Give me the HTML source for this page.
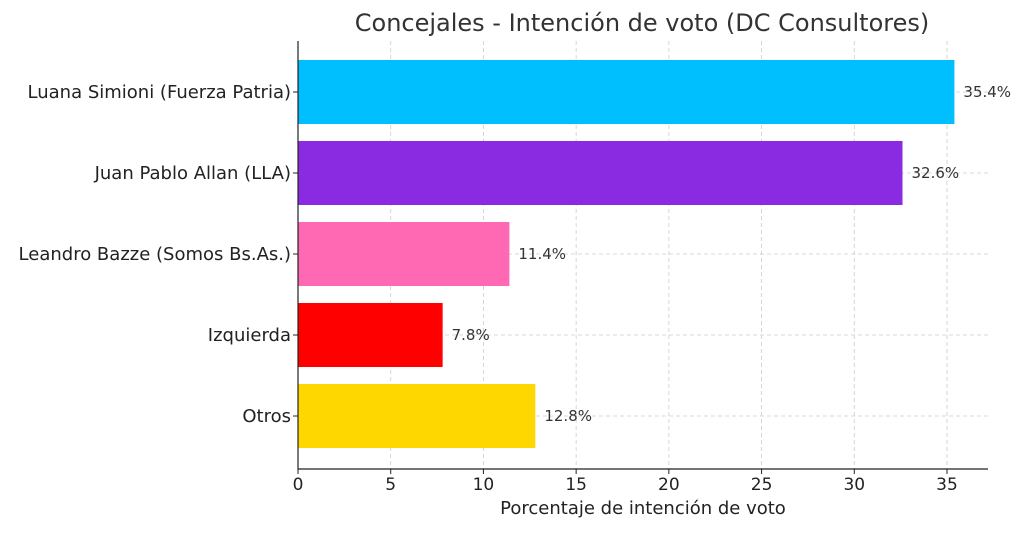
<!DOCTYPE html>
<html><head><meta charset="utf-8"><style>
body{margin:0;background:#fff;font-family:"Liberation Sans","DejaVu Sans",sans-serif;}
svg text{font-family:"DejaVu Sans","Liberation Sans",sans-serif;}
</style></head><body>
<svg id="chart" width="1024" height="529" xmlns="http://www.w3.org/2000/svg">
<text x="642" y="31" font-size="24" fill="#333" text-anchor="middle">Concejales - Intención de voto (DC Consultores)</text>
<g id="grid"></g><g id="bars"></g><g id="labels"></g><g id="ticks"></g>
<line x1="298" y1="41" x2="298" y2="469" stroke="#222" stroke-width="1.2"/>
<line x1="298" y1="469" x2="988" y2="469" stroke="#222" stroke-width="1.2"/>
<text x="643" y="514" font-size="18" fill="#222" text-anchor="middle">Porcentaje de intención de voto</text>
</svg>
<script>
const categories=["Luana Simioni (Fuerza Patria)","Juan Pablo Allan (LLA)","Leandro Bazze (Somos Bs.As.)","Izquierda","Otros"];
const values=[35.4,32.6,11.4,7.8,12.8];
const colors=["#00bfff","#8a2be2","#ff69b4","#ff0000","#ffd700"];
const xTicks=[0,5,10,15,20,25,30,35];
const NS="http://www.w3.org/2000/svg";
const x=v=>298+v*(649/35);
const yC=i=>92+i*81;
function mk(tag,attrs,parent){const e=document.createElementNS(NS,tag);for(const k in attrs)e.setAttribute(k,attrs[k]);document.getElementById(parent).appendChild(e);return e;}
xTicks.forEach(t=>{
  const g=mk("line",{x1:x(t),x2:x(t),y1:41,y2:469,stroke:"#ccc","stroke-dasharray":"4,3","stroke-width":0.8},"grid");
  
  
  const tk=mk("line",{x1:x(t),x2:x(t),y1:469,y2:474,stroke:"#222"},"ticks");
  
  
  const tl=mk("text",{x:x(t),y:490,"font-size":17,fill:"#222","text-anchor":"middle"},"ticks");
  tl.textContent=t;
  
  
});
categories.forEach((c,i)=>{
  const gl=mk("line",{x1:298,x2:988,y1:yC(i),y2:yC(i),stroke:"#ccc","stroke-dasharray":"4,3","stroke-width":0.8},"grid");
  
  
  const b=mk("rect",{x:x(0),y:yC(i)-32,width:x(values[i])-x(0),height:64,fill:colors[i]},"bars");
  
  
  const v=mk("text",{x:x(values[i])+9,y:yC(i)+5,"font-size":15,fill:"#333"},"labels");
  v.textContent=values[i].toFixed(1)+"%";
  
  
  const tk=mk("line",{x1:293,x2:298,y1:yC(i),y2:yC(i),stroke:"#222"},"ticks");
  
  
  const l=mk("text",{x:291,y:yC(i)+6,"font-size":18,fill:"#222","text-anchor":"end"},"labels");
  l.textContent=c;
  
  
});
</script>
</body></html>
